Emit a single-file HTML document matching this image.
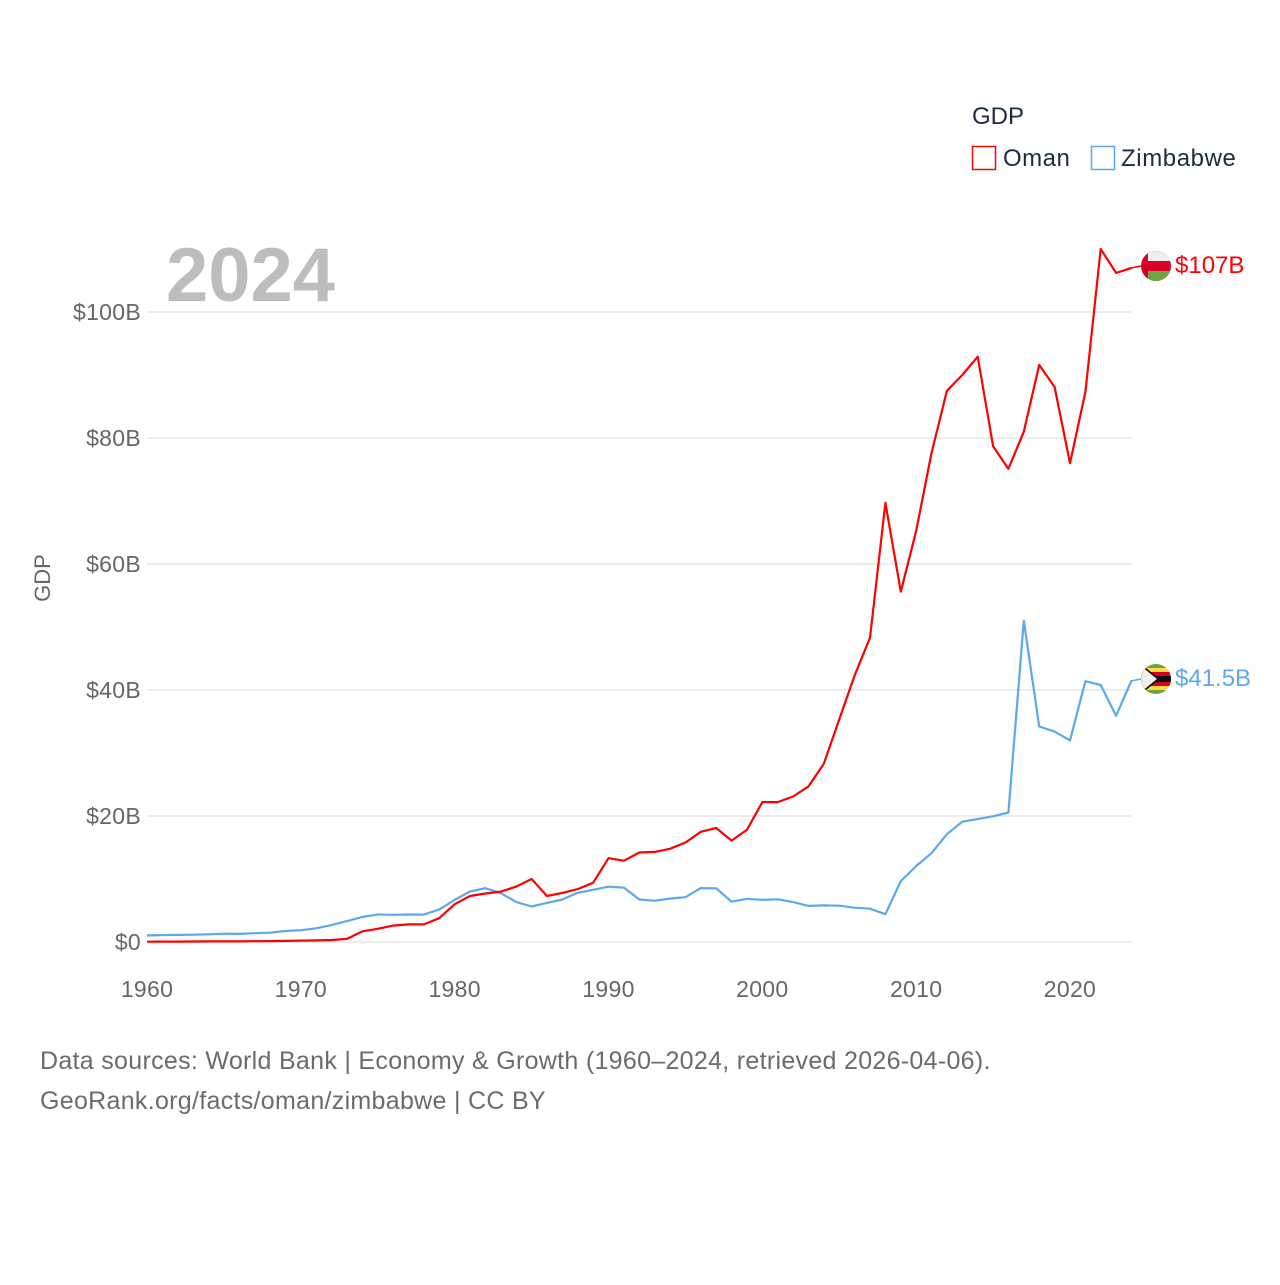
<!DOCTYPE html>
<html><head><meta charset="utf-8"><style>
body{margin:0;background:#fff;font-family:"Liberation Sans",sans-serif;}
svg text{font-family:"Liberation Sans",sans-serif;}
</style></head><body>
<svg id="chart" width="1280" height="1280" xmlns="http://www.w3.org/2000/svg">
<defs>
<clipPath id="c1"><circle cx="1156" cy="266" r="15"/></clipPath>
<clipPath id="c2"><circle cx="1156" cy="679" r="15"/></clipPath>
</defs>
<g id="grid"></g>
<g id="yticks"></g>
<g id="xticks"></g>
<text x="166" y="301" font-size="76" font-weight="bold" fill="#bdbdbd">2024</text>
<text transform="translate(50,578) rotate(-90)" text-anchor="middle" font-size="22" fill="#666">GDP</text>
<g id="lines"></g>
<line x1="1131" y1="268" x2="1141" y2="266" stroke="#ff0000" stroke-width="1.5"/>
<line x1="1131" y1="681" x2="1141" y2="679" stroke="#5ca8ee" stroke-width="1.5"/>
<g>
<text x="972" y="124" font-size="24" fill="#1c2b42">GDP</text>
<rect x="972.5" y="146.5" width="23" height="23" fill="none" stroke="#ff0000" stroke-width="1.5"/>
<text x="1003" y="166" font-size="24" letter-spacing="0.5" fill="#1c2b42">Oman</text>
<rect x="1091.5" y="146.5" width="23" height="23" fill="none" stroke="#5ca8ee" stroke-width="1.5"/>
<text x="1121" y="166" font-size="24" letter-spacing="0.6" fill="#1c2b42">Zimbabwe</text>
</g>
<g clip-path="url(#c1)">
<rect x="1141" y="251" width="30" height="30" fill="#db0025"/>
<rect x="1148" y="251" width="23" height="10" fill="#eeeeee"/>
<rect x="1148" y="271" width="23" height="10" fill="#6da544"/>
</g>
<g clip-path="url(#c2)">
<rect x="1141" y="664" width="30" height="30" fill="#6da544"/>
<rect x="1141" y="668" width="30" height="22" fill="#ffda44"/>
<rect x="1141" y="672" width="30" height="14" fill="#d80027"/>
<rect x="1141" y="676" width="30" height="6" fill="#111"/>
<polygon points="1141,664 1160,679 1141,694" fill="#111"/>
<polygon points="1141,666 1157,679 1141,692" fill="#eee"/>
</g>
<text id="lab-oman" x="1175" y="273" font-size="24" fill="#ff0000">$107B</text>
<text id="lab-zim" x="1175" y="686" font-size="24" fill="#5ca8ee">$41.5B</text>
<text x="40" y="1069" font-size="25" letter-spacing="0.3" fill="#6b6b6b">Data sources: World Bank | Economy &amp; Growth (1960–2024, retrieved 2026-04-06).</text>
<text x="40" y="1109" font-size="25" letter-spacing="0.3" fill="#6b6b6b">GeoRank.org/facts/oman/zimbabwe | CC BY</text>
</svg>
<script>
const years = [];for(let y=1960;y<=2024;y++)years.push(y);
const omanGDP = [0.05,0.06,0.07,0.08,0.09,0.1,0.1,0.12,0.15,0.18,0.22,0.26,0.32,0.5,1.7,2.1,2.6,2.8,2.8,3.8,6.0,7.3,7.7,8.0,8.8,10.0,7.3,7.8,8.4,9.4,13.3,12.9,14.2,14.3,14.8,15.8,17.5,18.1,16.1,17.8,22.2,22.2,23.1,24.7,28.3,35.3,42.3,48.3,69.7,55.6,65.2,77.6,87.5,90.0,92.9,78.7,75.1,81.0,91.6,88.1,76.0,87.3,110.0,106.2,107.0];
const zimGDP = [1.05,1.1,1.12,1.16,1.22,1.31,1.28,1.4,1.48,1.75,1.88,2.18,2.68,3.31,3.99,4.37,4.32,4.36,4.35,5.18,6.68,8.01,8.54,7.76,6.35,5.64,6.2,6.74,7.81,8.29,8.78,8.64,6.75,6.56,6.89,7.11,8.55,8.53,6.4,6.86,6.69,6.78,6.34,5.73,5.81,5.76,5.44,5.29,4.42,9.67,12.04,14.1,17.11,19.09,19.5,19.96,20.55,51.0,34.2,33.4,32.0,41.4,40.8,35.9,41.5];
const yTicks = [0,20,40,60,80,100];
const yTickLabels = ["$0","$20B","$40B","$60B","$80B","$100B"];
const xTicks = [1960,1970,1980,1990,2000,2010,2020];
const NS="http://www.w3.org/2000/svg";
const X0=147,X1=1131.5,Y0=942,YPer=6.3;
function xs(yr){return X0+(yr-1960)*(X1-X0)/64;}
function ys(v){return Y0-v*YPer;}
function mk(tag,attrs,parent){const e=document.createElementNS(NS,tag);for(const k in attrs)e.setAttribute(k,attrs[k]);document.getElementById(parent).appendChild(e);return e;}
yTicks.forEach((t,i)=>{
 const l=mk('line',{x1:X0,x2:X1,y1:ys(t),y2:ys(t),stroke:'#e6e6e6','stroke-width':1.5},'grid');
 
 
 const tx=mk('text',{x:141,y:ys(t)+8,'text-anchor':'end','font-size':23,'letter-spacing':0.3,fill:'#666'},'yticks');
 tx.textContent=yTickLabels[i];
 
 
});
xTicks.forEach(t=>{
 const tx=mk('text',{x:xs(t),y:997,'text-anchor':'middle','font-size':23,'letter-spacing':0.3,fill:'#666'},'xticks');
 tx.textContent=t;
 
 
});
function series(vals,color,name){
 const d=vals.map((v,i)=>(i?'L':'M')+xs(years[i]).toFixed(1)+','+ys(v).toFixed(1)).join(' ');
 const p=mk('path',{d:d,fill:'none',stroke:color,'stroke-width':2.2,'stroke-linejoin':'round'},'lines');
 
 
}
series(zimGDP,'#5ca8ee','zimbabwe-line');
series(omanGDP,'#ff0000','oman-line');
</script>
</body></html>
